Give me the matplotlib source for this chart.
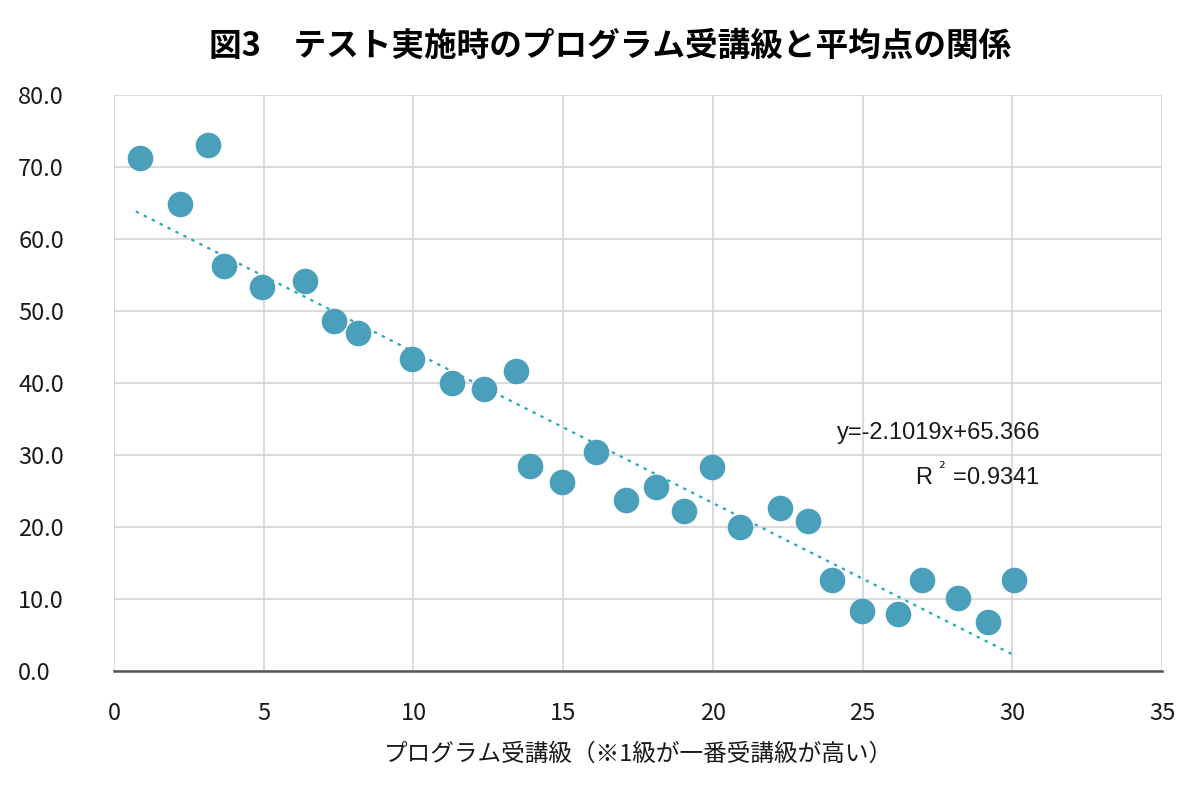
import matplotlib
matplotlib.use("Agg")
import matplotlib.pyplot as plt
import numpy as np

plt.rcParams['font.family'] = ['Noto Sans CJK JP', 'DejaVu Sans']

# 受講級と平均点
grade = [0.87, 2.2, 3.14, 3.67, 4.94, 6.38, 7.35, 8.15, 9.95, 11.29, 12.36, 13.43,
         13.9, 14.96, 16.1, 17.1, 18.1, 19.04, 19.97, 20.9, 22.24, 23.18, 23.98,
         24.98, 26.18, 26.99, 28.19, 29.19, 30.06]
score = [71.2, 64.9, 73.1, 56.2, 53.4, 54.2, 48.6, 46.9, 43.4, 40.0, 39.2, 41.6,
         28.5, 26.3, 30.4, 23.8, 25.5, 22.2, 28.4, 20.0, 22.7, 20.8, 12.6,
         8.4, 7.9, 12.6, 10.1, 6.8, 12.6]

slope, intercept = -2.1019, 65.366
trend_x = np.array([0.73, 30.0])

fig = plt.figure(figsize=(11.9, 7.92), dpi=100)
ax = fig.add_axes([0.0958, 0.1528, 0.8807, 0.7272])

ax.scatter(grade, score, s=340, color='#4a9fbb', zorder=3, linewidths=0)
ax.plot(trend_x, slope * trend_x + intercept, linestyle=(0, (1.5, 2.5)),
        color='#2aa7b8', linewidth=1.6, zorder=2)

ax.set_xlim(0, 35)
ax.set_ylim(0, 80)
ax.set_xticks(range(0, 36, 5))
ax.set_yticks(range(0, 81, 10))
ax.set_yticklabels([f'{v:.1f}' for v in range(0, 81, 10)])
ax.grid(True, color='#d4d4d4', linewidth=1.2)
ax.set_axisbelow(True)
for side in ['top', 'right', 'left']:
    ax.spines[side].set_visible(False)
ax.spines['bottom'].set_color('#555555')
ax.spines['bottom'].set_linewidth(1.8)
ax.tick_params(axis='both', length=0, labelsize=17, colors='#1a1a1a')
ax.tick_params(axis='x', pad=22)
ax.tick_params(axis='y', pad=69)
for lbl in ax.get_yticklabels():
    lbl.set_horizontalalignment('left')

ax.set_xlabel('プログラム受講級（※1級が一番受講級が高い）', fontsize=17, labelpad=13,
              color='#1a1a1a')
fig.suptitle('図3\u3000テスト実施時のプログラム受講級と平均点の関係', fontsize=23.5,
             fontweight='bold', y=0.962, x=0.513)

ax.text(30.93, 33.1, 'y=-2.1019x+65.366', fontsize=17, family='Liberation Sans',
        ha='right', va='center', color='#1a1a1a')
ax.text(30.93, 27.1, 'R $^{²}$ =0.9341', fontsize=17, family='Liberation Sans',
        ha='right', va='center', color='#1a1a1a')

fig.savefig('out.png', dpi=100)
